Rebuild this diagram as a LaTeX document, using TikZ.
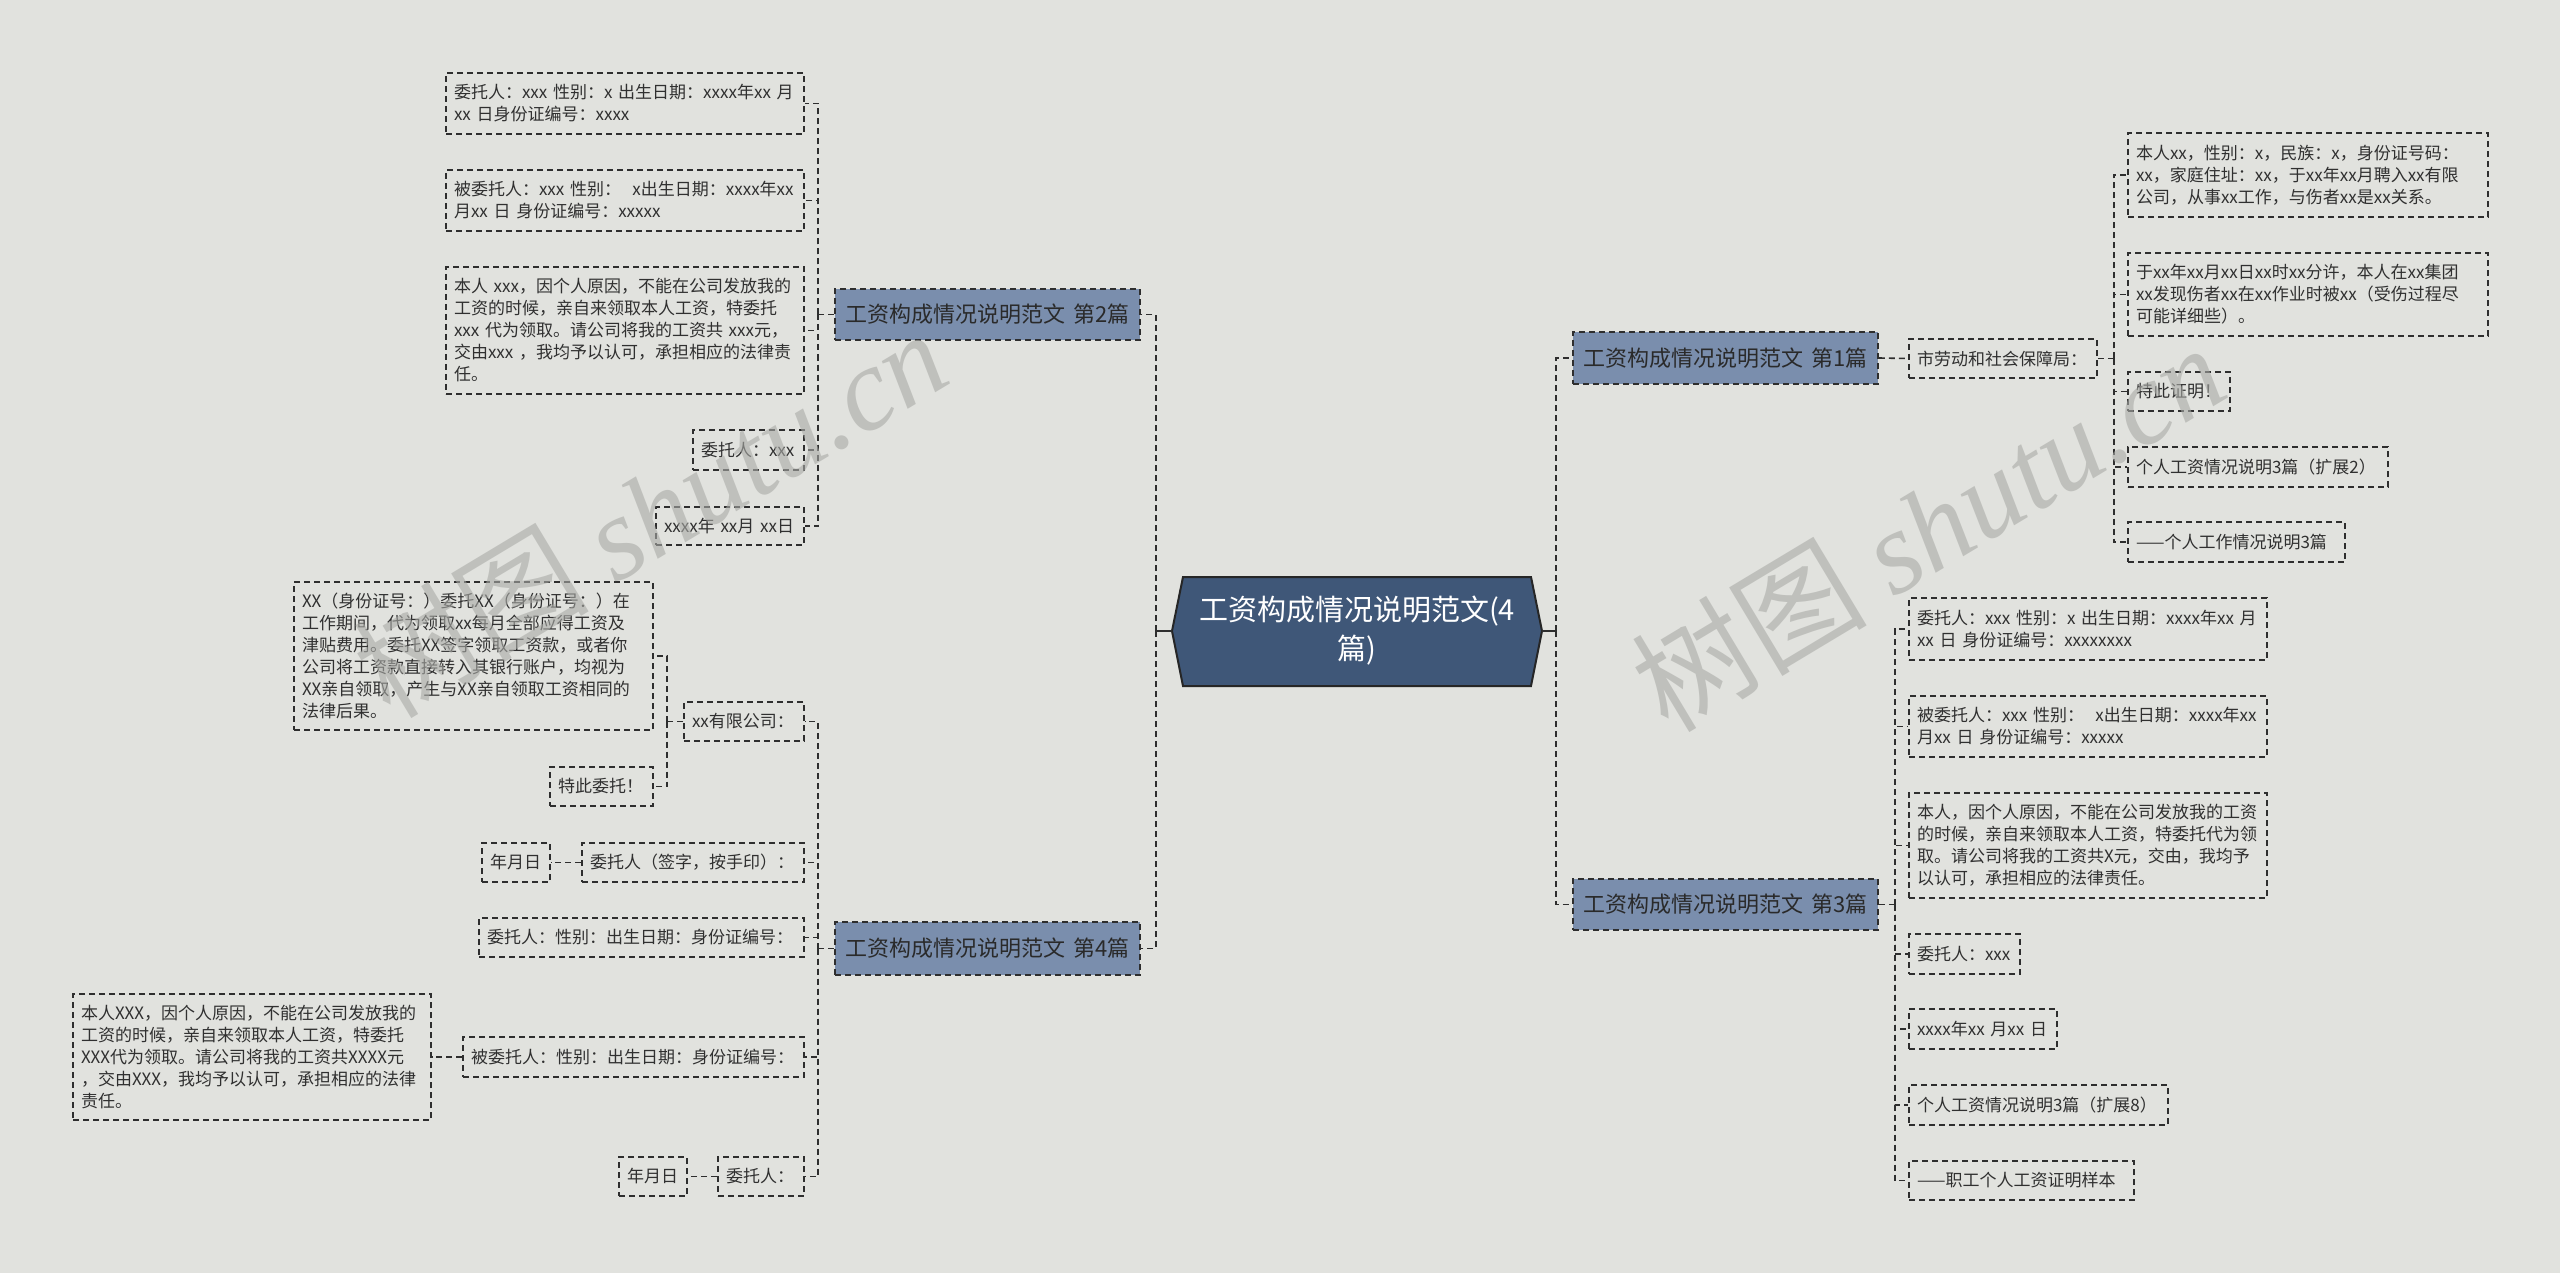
\documentclass[tikz,border=0pt]{standalone}
\usepackage{fontspec}
\setmainfont{Noto Sans CJK SC}
\newfontfamily\wmlatin{Liberation Serif}
\usetikzlibrary{calc}
\definecolor{bgc}{HTML}{E1E2DE}
\definecolor{mainc}{HTML}{3F5778}
\definecolor{lonec}{HTML}{7A8EAD}
\definecolor{edgec}{HTML}{2E2E2E}
\definecolor{txtc}{HTML}{303030}
\definecolor{ltxt}{HTML}{2A2A2A}
\definecolor{wmc}{HTML}{A9AAA6}
\tikzset{
  leaf/.style={draw=edgec, line width=1.6pt, dash pattern=on 6pt off 4pt, text=txtc,
    font=\fontsize{17}{22}\selectfont, inner xsep=8pt, inner ysep=0pt, align=left},
  lone/.style={leaf, fill=lonec, font=\fontsize{22}{26}\selectfont, text=ltxt, align=center},
  conn/.style={draw=edgec, line width=1.6pt, dash pattern=on 6pt off 4pt},
  trunk/.style={draw=edgec, line width=2pt},
  wmark/.style={text=wmc, opacity=0.6, rotate=31, inner sep=0pt}
}
\newcommand\bx[7][leaf]{%
  \pgfmathsetmacro\bxw{#5-#3}\pgfmathsetmacro\bxh{#6-#4}\pgfmathsetmacro\bxt{#5-#3-16}%
  \node[#1, minimum width=\bxw pt, minimum height=\bxh pt, text width=\bxt pt] (#2)
    at ({(#3+#5)/2},{(#4+#6)/2}) {#7};}
\begin{document}
\begin{tikzpicture}[x=1pt,y=-1pt]
\fill[bgc] (0,0) rectangle (2560,1273);
\useasboundingbox (0,0) rectangle (2560,1273);

% central
\filldraw[fill=mainc, draw=black!85, line width=2pt] (1172,631) -- (1183,577) -- (1531,577) -- (1542,631) -- (1531,686) -- (1183,686) -- cycle;
\node[minimum width=370pt, minimum height=110pt, inner sep=0pt, text=white,
  font=\fontsize{29}{39}\selectfont, align=center] (C) at (1357,631) {工资构成情况说明范文(4\\篇)};

% level one
\bx[lone]{L2}{835}{289}{1140}{340}{工资构成情况说明范文 第2篇}
\bx[lone]{L4}{835}{922}{1140}{975}{工资构成情况说明范文 第4篇}
\bx[lone]{L1}{1573}{332}{1878}{384}{工资构成情况说明范文 第1篇}
\bx[lone]{L3}{1573}{879}{1878}{930}{工资构成情况说明范文 第3篇}

% branch 2
\bx{A1}{446}{73}{804}{134}{委托人：xxx 性别：x 出生日期：xxxx年xx 月\\xx 日身份证编号：xxxx}
\bx{A2}{446}{170}{804}{231}{被委托人：xxx 性别：\ \ x出生日期：xxxx年xx\\月xx 日 身份证编号：xxxxx}
\bx{A3}{446}{267}{804}{394}{本人 xxx，因个人原因，不能在公司发放我的\\工资的时候，亲自来领取本人工资，特委托\\xxx 代为领取。请公司将我的工资共 xxx元，\\交由xxx ，我均予以认可，承担相应的法律责\\任。}
\bx{A4}{693}{430}{804}{470}{委托人：xxx}
\bx{A5}{656}{507}{804}{545}{xxxx年 xx月 xx日}

% branch 4
\bx{B1}{684}{702}{804}{741}{xx有限公司：}
\bx{B1a}{294}{582}{653}{730}{XX（身份证号：）委托XX（身份证号：）在\\工作期间，代为领取xx每月全部应得工资及\\津贴费用。委托XX签字领取工资款，或者你\\公司将工资款直接转入其银行账户，均视为\\XX亲自领取，产生与XX亲自领取工资相同的\\法律后果。}
\bx{B1b}{550}{767}{653}{806}{特此委托！}
\bx{B2}{582}{843}{804}{882}{委托人（签字，按手印）：}
\bx{B2c}{482}{843}{550}{882}{年月日}
\bx{B3}{479}{918}{804}{957}{委托人：性别：出生日期：身份证编号：}
\bx{B4}{463}{1037}{804}{1077}{被委托人：性别：出生日期：身份证编号：}
\bx{B4c}{73}{994}{431}{1120}{本人XXX，因个人原因，不能在公司发放我的\\工资的时候，亲自来领取本人工资，特委托\\XXX代为领取。请公司将我的工资共XXXX元\\，交由XXX，我均予以认可，承担相应的法律\\责任。}
\bx{B5}{718}{1157}{804}{1196}{委托人：}
\bx{B5c}{619}{1157}{687}{1196}{年月日}

% branch 1
\bx{S}{1909}{339}{2097}{378}{市劳动和社会保障局：}
\bx{C1}{2128}{133}{2488}{217}{本人xx，性别：x，民族：x，身份证号码：\\xx，家庭住址：xx，于xx年xx月聘入xx有限\\公司，从事xx工作，与伤者xx是xx关系。}
\bx{C2}{2128}{253}{2488}{336}{于xx年xx月xx日xx时xx分许，本人在xx集团\\xx发现伤者xx在xx作业时被xx（受伤过程尽\\可能详细些）。}
\bx{C3}{2128}{372}{2230}{411}{特此证明！}
\bx{C4}{2128}{447}{2388}{487}{个人工资情况说明3篇（扩展2）}
\bx{C5}{2128}{522}{2345}{562}{——个人工作情况说明3篇}

% branch 3
\bx{D1}{1909}{598}{2267}{660}{委托人：xxx 性别：x 出生日期：xxxx年xx 月\\xx 日 身份证编号：xxxxxxxx}
\bx{D2}{1909}{696}{2267}{757}{被委托人：xxx 性别：\ \ x出生日期：xxxx年xx\\月xx 日 身份证编号：xxxxx}
\bx{D3}{1909}{793}{2267}{898}{本人，因个人原因，不能在公司发放我的工资\\的时候，亲自来领取本人工资，特委托代为领\\取。请公司将我的工资共X元，交由，我均予\\以认可，承担相应的法律责任。}
\bx{D4}{1909}{934}{2020}{974}{委托人：xxx}
\bx{D5}{1909}{1009}{2057}{1049}{xxxx年xx 月xx 日}
\bx{D6}{1909}{1085}{2168}{1125}{个人工资情况说明3篇（扩展8）}
\bx{D7}{1909}{1161}{2134}{1200}{——职工个人工资证明样本}

% connectors: centre
\draw[trunk] (C.west) -- ++(-16,0) coordinate (lj);
\draw[conn] (lj) |- (L2.east);
\draw[conn] (lj) |- (L4.east);
\draw[trunk] (C.east) -- ++(14,0) coordinate (rj);
\draw[conn] (rj) |- (L1.west);
\draw[conn] (rj) |- (L3.west);

% branch 2
\draw[conn] (L2.west) -- ++(-16,0) coordinate (j2);
\foreach \n in {A1,A2,A3,A4,A5} \draw[conn] (j2) |- (\n.east);

% branch 4
\draw[conn] (L4.west) -- ++(-16,0) coordinate (j4);
\foreach \n in {B1,B2,B3,B4,B5} \draw[conn] (j4) |- (\n.east);
\draw[conn] (B1.west) -- ++(-16,0) coordinate (jb);
\draw[conn] (jb) |- (B1a.east);
\draw[conn] (jb) |- (B1b.east);
\draw[conn] (B2.west) -- (B2c.east);
\draw[conn] (B4.west) -- (B4c.east);
\draw[conn] (B5.west) -- (B5c.east);

% branch 1
\draw[conn] (L1.east) -- (S.west);
\draw[conn] (S.east) -- ++(16,0) coordinate (js);
\foreach \n in {C1,C2,C3,C4,C5} \draw[conn] (js) |- (\n.west);

% branch 3
\draw[conn] (L3.east) -- ++(16,0) coordinate (j3);
\foreach \n in {D1,D2,D3,D4,D5,D6,D7} \draw[conn] (j3) |- (\n.west);

% watermarks
\node[wmark, font=\fontsize{118}{118}\selectfont] (wm1) at (650,512) {树图 {\wmlatin\itshape shutu.cn}};
\node[wmark, font=\fontsize{118}{118}\selectfont] (wm2) at (1928,526) {树图 {\wmlatin\itshape shutu.cn}};
\end{tikzpicture}
\end{document}
